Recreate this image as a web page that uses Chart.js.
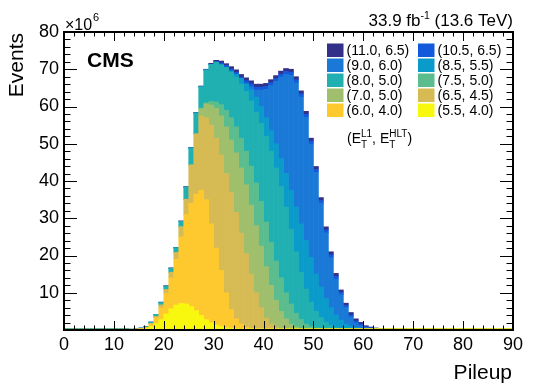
<!DOCTYPE html>
<html>
<head>
<meta charset="utf-8">
<title>Pileup</title>
<script src="https://cdn.jsdelivr.net/npm/chart.js@4.4.0/dist/chart.umd.min.js"></script>
<style>
    html, body { margin: 0; padding: 0; background: #fff; }
    #wrap { width: 540px; height: 390px; position: relative; }
</style>
</head>
<body>
<div id="wrap"><canvas id="chartPileup"></canvas></div>
<script>
// pileup bins 0..89 (width 1), values in units of 10^6 events, stack order bottom -> top
const s55_40 = [
    0, 0, 0, 0, 0, 0, 0, 0, 0, 0,
    0, 0, 0, 0.1, 0.15, 0.2, 0.4, 0.9, 1.7, 2.8,
    4.3, 5.7, 6.7, 7.1, 7.0, 6.3, 5.2, 3.9, 2.8, 1.9,
    1.3, 0.9, 0.6, 0.4, 0.35, 0.3, 0.3, 0.3, 0.3, 0.3,
    0.3, 0.3, 0.3, 0.3, 0.3, 0.3, 0.3, 0.3, 0.3, 0.3,
    0.3, 0.3, 0.3, 0.3, 0.3, 0.3, 0.3, 0.3, 0.3, 0.3,
    0.3, 0.3, 0.3, 0.3, 0.3, 0.3, 0.3, 0.3, 0.3, 0.3,
    0.3, 0.3, 0.3, 0.3, 0.3, 0.3, 0.3, 0.3, 0.3, 0.3,
    0.3, 0.3, 0.3, 0.3, 0.3, 0.3, 0.3, 0.3, 0.3, 0.3
];
const s60_40 = [
    0, 0, 0, 0, 0, 0, 0, 0, 0, 0,
    0, 0, 0, 0.1, 0.1, 0.2, 0.3, 0.7, 1.6, 3.2,
    5.5, 8.3, 12.3, 17.9, 24.0, 27.7, 31.3, 33.6, 32.2, 26.6,
    20.7, 15.1, 9.4, 5.1, 2.7, 1.3, 0.5, 0.1, 0, 0,
    0, 0, 0, 0, 0, 0, 0, 0, 0, 0,
    0, 0, 0, 0, 0, 0, 0, 0, 0, 0,
    0, 0, 0, 0, 0, 0, 0, 0, 0, 0,
    0, 0, 0, 0, 0, 0, 0, 0, 0, 0,
    0, 0, 0, 0, 0, 0, 0, 0, 0, 0
];
const s65_45 = [
    0, 0, 0, 0, 0, 0, 0, 0, 0, 0,
    0, 0, 0, 0, 0, 0, 0, 0.1, 0.3, 0.7,
    1.1, 1.5, 1.8, 2.7, 4.1, 10.3, 16.0, 20.0, 22.0, 26.5,
    29.5, 31.0, 32.0, 31.5, 28.5, 24.4, 19.7, 14.6, 9.7, 5.7,
    2.9, 1.3, 0.5, 0.1, 0, 0, 0, 0, 0, 0,
    0, 0, 0, 0, 0, 0, 0, 0, 0, 0,
    0, 0, 0, 0, 0, 0, 0, 0, 0, 0,
    0, 0, 0, 0, 0, 0, 0, 0, 0, 0,
    0, 0, 0, 0, 0, 0, 0, 0, 0, 0
];
const s70_50 = [
    0.3, 0.3, 0.3, 0.3, 0.3, 0.3, 0.3, 0.3, 0.3, 0.3,
    0.3, 0.3, 0.3, 0, 0, 0, 0, 0, 0, 0,
    0, 0, 0, 0, 0, 0, 0.2, 1.9, 3.7, 5.4,
    8.0, 10.5, 12.5, 14.0, 16.0, 17.5, 18.5, 18.5, 18.0, 16.5,
    13.8, 10.4, 7.2, 4.6, 2.7, 1.2, 0.5, 0.1, 0, 0,
    0, 0, 0, 0, 0, 0, 0, 0, 0, 0,
    0, 0, 0, 0, 0, 0, 0, 0, 0, 0,
    0, 0, 0, 0, 0, 0, 0, 0, 0, 0,
    0, 0, 0, 0, 0, 0, 0, 0, 0, 0
];
const s75_50 = [
    0, 0, 0, 0, 0, 0, 0, 0, 0, 0,
    0, 0, 0, 0, 0, 0, 0, 0, 0, 0,
    0, 0, 0, 0, 0, 0, 0.1, 0.2, 0.3, 1.0,
    1.7, 3.0, 4.5, 6.0, 7.0, 8.0, 9.0, 10.5, 11.5, 12.0,
    12.0, 11.5, 10.5, 9.0, 7.0, 5.5, 3.7, 2.4, 1.3, 0.6,
    0.2, 0.05, 0, 0, 0, 0, 0, 0, 0, 0,
    0, 0, 0, 0, 0, 0, 0, 0, 0, 0,
    0, 0, 0, 0, 0, 0, 0, 0, 0, 0,
    0, 0, 0, 0, 0, 0, 0, 0, 0, 0
];
const s80_50 = [
    0, 0, 0, 0, 0, 0, 0, 0, 0, 0,
    0, 0, 0, 0, 0.05, 0.1, 0.2, 0.4, 0.6, 0.65,
    0.85, 1.05, 1.25, 1.45, 3.25, 4.55, 5.45, 5.7, 8.8, 9.9,
    10.7, 10.7, 11.5, 12.2, 13.3, 14.5, 16.0, 17.5, 19.0, 21.0,
    23.0, 24.5, 25.0, 24.5, 23.0, 20.0, 16.5, 12.7, 9.4, 6.6,
    4.5, 3.0, 1.7, 0.9, 0.3, 0.05, 0, 0, 0, 0,
    0, 0, 0, 0, 0, 0, 0, 0, 0, 0,
    0, 0, 0, 0, 0, 0, 0, 0, 0, 0,
    0, 0, 0, 0, 0, 0, 0, 0, 0, 0
];
const s85_55 = [
    0, 0, 0, 0, 0, 0, 0, 0, 0, 0,
    0, 0, 0, 0, 0, 0, 0, 0, 0, 0,
    0, 0, 0, 0, 0, 0, 0, 0, 0, 0,
    0, 0, 0, 0.3, 0.8, 1.5, 2.0, 3.0, 4.0, 4.5,
    5.0, 5.5, 6.5, 7.5, 9.0, 10.5, 12.0, 13.0, 13.0, 12.0,
    10.0, 8.2, 6.5, 4.8, 3.4, 2.3, 1.3, 0.7, 0.3, 0.05,
    0, 0, 0, 0, 0, 0, 0, 0, 0, 0,
    0, 0, 0, 0, 0, 0, 0, 0, 0, 0,
    0, 0, 0, 0, 0, 0, 0, 0, 0, 0
];
const s90_60 = [
    0, 0, 0, 0, 0, 0, 0, 0, 0, 0,
    0, 0, 0, 0, 0, 0, 0, 0, 0, 0,
    0, 0, 0, 0, 0, 0, 0, 0, 0, 0,
    0, 0, 0, 0, 0, 0, 0.2, 0.8, 1.9, 4.4,
    7.6, 12.1, 16.7, 21.9, 26.6, 30.9, 33.4, 34.1, 33.1, 30.4,
    27.3, 22.4, 17.6, 13.4, 9.6, 6.8, 4.5, 2.5, 1.3, 0.8,
    0.35, 0.2, 0.1, 0.05, 0, 0, 0, 0, 0, 0,
    0, 0, 0, 0, 0, 0, 0, 0, 0, 0,
    0, 0, 0, 0, 0, 0, 0, 0, 0, 0
];
const s105_65 = [
    0, 0, 0, 0, 0, 0, 0, 0, 0, 0,
    0, 0, 0, 0, 0, 0, 0, 0, 0, 0,
    0, 0, 0, 0, 0, 0, 0, 0, 0, 0,
    0.1, 0.5, 0.5, 0.5, 0.5, 0.4, 0.7, 0.8, 0.8, 0.8,
    0.8, 0.8, 0.8, 0.8, 0.8, 0.8, 0.8, 0.8, 0.8, 0.8,
    0.8, 0.8, 0.8, 0.8, 0.8, 0.6, 0.5, 0.5, 0.5, 0.4,
    0.2, 0.1, 0.05, 0, 0, 0, 0, 0, 0, 0,
    0, 0, 0, 0, 0, 0, 0, 0, 0, 0,
    0, 0, 0, 0, 0, 0, 0, 0, 0, 0
];
const s110_65 = [
    0, 0, 0, 0, 0, 0, 0, 0, 0, 0,
    0, 0, 0, 0, 0, 0, 0, 0, 0, 0.15,
    0.15, 0.15, 0.15, 0.15, 0.15, 0.15, 0.15, 0.2, 0.2, 0.3,
    0.4, 0.5, 0.5, 0.7, 0.7, 0.7, 0.8, 0.8, 0.8, 0.8,
    0.8, 0.8, 0.8, 0.8, 0.8, 0.8, 0.8, 0.8, 0.8, 0.8,
    0.8, 0.8, 0.8, 0.8, 0.8, 0.7, 0.6, 0.7, 0.6, 0.5,
    0.3, 0.2, 0.1, 0.05, 0, 0, 0, 0, 0, 0,
    0, 0, 0, 0, 0, 0, 0, 0, 0, 0,
    0, 0, 0, 0, 0, 0, 0, 0, 0, 0
];

const seriesValues = [s55_40, s60_40, s65_45, s70_50, s75_50, s80_50, s85_55, s90_60, s105_65, s110_65];
const seriesLabels = ['(5.5, 4.0)', '(6.0, 4.0)', '(6.5, 4.5)', '(7.0, 5.0)', '(7.5, 5.0)',
                      '(8.0, 5.0)', '(8.5, 5.5)', '(9.0, 6.0)', '(10.5, 6.5)', '(11.0, 6.5)'];
const seriesColours = ['#f8f80f', '#fdc92e', '#d6bb54', '#9fbf6c', '#5bbd8e',
                       '#20b0b1', '#0a9bcb', '#1a79d7', '#1259dc', '#33308a'];
const xTicks = [0, 10, 20, 30, 40, 50, 60, 70, 80, 90];
const yTicks = [10, 20, 30, 40, 50, 60, 70, 80];

const FONT = '"Liberation Sans", Arial, Helvetica, sans-serif';
Chart.defaults.font.family = FONT;
Chart.defaults.color = '#000';

const binCentres = seriesValues[0].map((_, i) => i + 0.5);

const datasets = seriesValues.map((vals, k) => ({
    label: seriesLabels[k],
    data: vals.map((v, i) => ({ x: binCentres[i], y: v })),
    backgroundColor: seriesColours[k],
    borderWidth: 0,
    barPercentage: 1,
    categoryPercentage: 1
}));

// draws text with a raised / lowered small part, returns the new x
function drawSupSub(ctx, x, base, sup, sub, size) {
    ctx.font = size + 'px ' + FONT;
    let w = 0;
    if (sup) { ctx.fillText(sup, x, base - 6.5); w = ctx.measureText(sup).width; }
    if (sub) { ctx.fillText(sub, x, base + 5); w = Math.max(w, ctx.measureText(sub).width); }
    return x + w;
}

const rootStyle = {
    id: 'rootStyle',
    afterDatasetsDraw(chart) {
        const { ctx, chartArea: a, scales: { x, y } } = chart;
        ctx.save();
        ctx.strokeStyle = '#000';
        ctx.lineWidth = 1;
        ctx.beginPath();
        for (let v = 0; v <= 90; v += 2) {
            const px = Math.round(x.getPixelForValue(v)) + 0.5;
            const len = v % 10 === 0 ? 9 : 4.5;
            ctx.moveTo(px, a.bottom); ctx.lineTo(px, a.bottom - len);
            ctx.moveTo(px, a.top); ctx.lineTo(px, a.top + len);
        }
        for (let v = 0; v <= 80; v += 2) {
            const py = Math.round(y.getPixelForValue(v)) + 0.5;
            const len = v % 10 === 0 ? 13 : 6.5;
            ctx.moveTo(a.left, py); ctx.lineTo(a.left + len, py);
            ctx.moveTo(a.right, py); ctx.lineTo(a.right - len, py);
        }
        ctx.stroke();
        ctx.lineWidth = 2;
        ctx.strokeRect(a.left, a.top, a.right - a.left, a.bottom - a.top);
        ctx.restore();
    },
    afterDraw(chart) {
        const ctx = chart.ctx;
        ctx.save();
        ctx.fillStyle = '#000';
        ctx.textBaseline = 'alphabetic';

        // axis titles
        ctx.font = '21px ' + FONT;
        ctx.textAlign = 'right';
        ctx.fillText('Pileup', 512, 379);
        ctx.save();
        ctx.translate(22.5, 33);
        ctx.rotate(-Math.PI / 2);
        ctx.fillText('Events', 0, 0);
        ctx.restore();

        // exponent
        ctx.textAlign = 'left';
        ctx.font = '16px ' + FONT;
        ctx.fillText('\u00d710', 65, 30);
        ctx.font = '11px ' + FONT;
        ctx.fillText('6', 93, 20.5);

        // lumi label
        const big = '17px ' + FONT, small = '10.5px ' + FONT;
        ctx.font = big;
        const p1 = '33.9 fb', p3 = ' (13.6 TeV)';
        const w1 = ctx.measureText(p1).width, w3 = ctx.measureText(p3).width;
        ctx.font = small;
        const w2 = ctx.measureText('-1').width;
        let lx = 513 - (w1 + w2 + w3);
        ctx.font = big;
        ctx.fillText(p1, lx, 26);
        ctx.font = small;
        ctx.fillText('-1', lx + w1, 19);
        ctx.font = big;
        ctx.fillText(p3, lx + w1 + w2, 26);

        // CMS
        ctx.font = 'bold 21px ' + FONT;
        ctx.fillText('CMS', 87, 67);

        // legend, two columns, drawn from the top of the stack
        ctx.font = '14px ' + FONT;
        ctx.textBaseline = 'middle';
        for (let k = 0; k < seriesLabels.length; k++) {
            const idx = seriesLabels.length - 1 - k;
            const col = k % 2, row = Math.floor(k / 2);
            const bx = col ? 418 : 327;
            const by = 43.5 + row * 15;
            ctx.fillStyle = seriesColours[idx];
            ctx.fillRect(bx, by, 16.5, 13.5);
            ctx.fillStyle = '#000';
            ctx.fillText(seriesLabels[idx], bx + 19.5, by + 7.5);
        }

        // (E_T^L1, E_T^HLT)
        ctx.textBaseline = 'alphabetic';
        const base = 143;
        let ex = 347;
        ctx.font = '14px ' + FONT;
        ctx.fillText('(E', ex, base);
        ex += ctx.measureText('(E').width;
        ex = drawSupSub(ctx, ex, base, 'L1', 'T', 10);
        ctx.font = '14px ' + FONT;
        ctx.fillText(', E', ex, base);
        ex += ctx.measureText(', E').width;
        ex = drawSupSub(ctx, ex, base, 'HLT', 'T', 10);
        ctx.font = '14px ' + FONT;
        ctx.fillText(')', ex, base);
        ctx.restore();
    }
};

new Chart(document.getElementById('chartPileup'), {
    type: 'bar',
    data: { datasets: datasets },
    options: {
        responsive: true,
        maintainAspectRatio: false,
        devicePixelRatio: 1,
        animation: false,
        events: [],
        layout: { padding: { top: 32, right: 27, left: 0, bottom: 0 } },
        plugins: {
            legend: { display: false },
            tooltip: { enabled: false }
        },
        scales: {
            x: {
                type: 'linear',
                stacked: true,
                offset: false,
                min: 0,
                max: 90,
                grid: { display: false, drawTicks: false },
                border: { display: false },
                afterBuildTicks: scale => { scale.ticks = xTicks.map(v => ({ value: v })); },
                ticks: { font: { size: 18 }, padding: 4, maxRotation: 0, autoSkip: false },
                afterFit: scale => { scale.height = 60; }
            },
            y: {
                stacked: true,
                min: 0,
                max: 80,
                grid: { display: false, drawTicks: false },
                border: { display: false },
                afterBuildTicks: scale => { scale.ticks = yTicks.map(v => ({ value: v })); },
                ticks: { font: { size: 18 }, padding: 5 },
                afterFit: scale => { scale.width = 64; }
            }
        }
    },
    plugins: [rootStyle]
});
</script>
</body>
</html>
